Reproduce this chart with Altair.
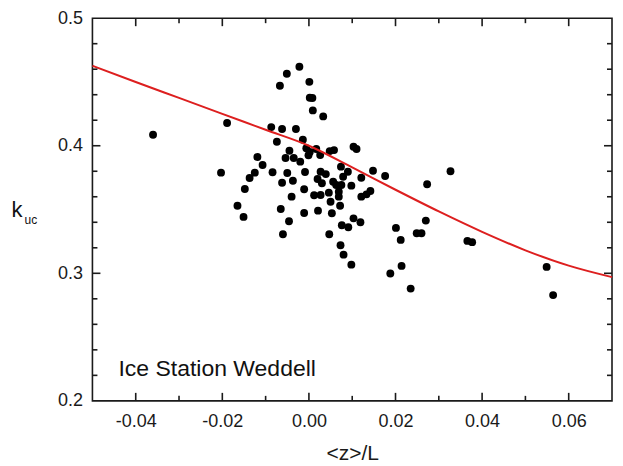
import altair as alt
import pandas as pd

# scatter data: <z>/L and k_uc
zl = [-0.0360, -0.0189, -0.0203, -0.0165, -0.0151, -0.0148, -0.0137, -0.0125, -0.0119, -0.0107,
      -0.0087, -0.0084, -0.0074, -0.0067, -0.0062, -0.0065, -0.0062, -0.0060, -0.0051, -0.0054,
      -0.0050, -0.0046, -0.0045, -0.0040, -0.0037, -0.0035, -0.0030, -0.0022, -0.0020, -0.0014,
      -0.0011, -0.0011, -0.0009, 0.0001, 0.0002, 0.0008, 0.0009, -0.0006, -0.0001, 0.0012,
      0.0020, 0.0021, 0.0033, 0.0002, 0.0017, 0.0026, 0.0027, 0.0039, 0.0030, 0.0048,
      0.0058, 0.0074, 0.0090, 0.0103, 0.0110, 0.0121, 0.0148, 0.0176, 0.0056, 0.0063,
      0.0075, 0.0098, 0.0079, 0.0027, 0.0046, 0.0069, 0.0069, 0.0121, 0.0133, 0.0142,
      0.0050, 0.0072, 0.0053, 0.0103, 0.0119, 0.0076, 0.0091, 0.0047, 0.0327, 0.0273,
      0.0270, 0.0201, 0.0249, 0.0260, 0.0212, 0.0366, 0.0377, 0.0073, 0.0080, 0.0098,
      0.0188, 0.0214, 0.0235, 0.0549, 0.0564]
kuc = [0.4086, 0.4178, 0.3789, 0.3530, 0.3442, 0.3661, 0.3747, 0.3789, 0.3912, 0.3849,
       0.4146, 0.3792, 0.4031, 0.4470, 0.4131, 0.3504, 0.3710, 0.3306, 0.4564, 0.3904,
       0.3786, 0.3408, 0.3961, 0.3601, 0.3726, 0.3904, 0.4131, 0.4619, 0.3875, 0.4047,
       0.3659, 0.3473, 0.3794, 0.4501, 0.4376, 0.4374, 0.4277, 0.3980, 0.3925, 0.3612,
       0.3739, 0.3491, 0.4230, 0.3951, 0.3974, 0.3927, 0.3796, 0.3778, 0.3706, 0.3958,
       0.3966, 0.3836, 0.3796, 0.3992, 0.3974, 0.3749, 0.3804, 0.3763, 0.3718, 0.3692,
       0.3692, 0.3687, 0.3757, 0.3614, 0.3632, 0.3640, 0.3601, 0.3601, 0.3619, 0.3645,
       0.3561, 0.3530, 0.3471, 0.3431, 0.3400, 0.3377, 0.3361, 0.3306, 0.3800, 0.3698,
       0.3413, 0.3356, 0.3314, 0.3314, 0.3262, 0.3254, 0.3244, 0.3220, 0.3146, 0.3068,
       0.2998, 0.3058, 0.2880, 0.3050, 0.2829]

# red model curve
curve_x = [-0.05, -0.04, -0.03, -0.02, -0.01, 0.00, 0.01, 0.02, 0.03, 0.04, 0.05, 0.06, 0.07]
curve_y = [0.4627, 0.4500, 0.4375, 0.4250, 0.4125, 0.4000, 0.3830, 0.3655, 0.3485, 0.3325,
           0.3180, 0.3060, 0.2970]

x_major = [-0.04, -0.02, 0.0, 0.02, 0.04, 0.06]
x_minor = [-0.03, -0.01, 0.01, 0.03, 0.05]
y_major = [0.3, 0.4]
y_minor = [0.22, 0.24, 0.26, 0.28, 0.32, 0.34, 0.36, 0.38, 0.42, 0.44, 0.46, 0.48]
y_labels = [0.2, 0.3, 0.4, 0.5]

X0, X1 = -0.05, 0.07
Y0, Y1 = 0.2, 0.5
W, H = 520, 383
FONT = "Liberation Sans"
TC = "#1a1a1a"
MAJ, MIN = 8, 5
TW = 1.6  # tick thickness in px

pts = pd.DataFrame({"zl": zl, "kuc": kuc})
crv = pd.DataFrame({"zl": curve_x, "kuc": curve_y})

xs = alt.Scale(domain=[X0, X1], nice=False, zero=False)
ys = alt.Scale(domain=[Y0, Y1], nice=False, zero=False)

xaxis = alt.Axis(values=x_major, labelExpr="replace(format(datum.value, '.2f'), '\u2212', '-')",
                 ticks=False, domain=False, grid=False, labelFontSize=18, labelFont=FONT,
                 labelColor=TC, labelPadding=12, title="<z>/L", titleFont=FONT,
                 titleFontSize=21, titleFontWeight="normal", titleColor=TC, titlePadding=12)
yaxis = alt.Axis(values=y_labels, format=".1f", ticks=False, domain=False, grid=False,
                 labelFontSize=18, labelFont=FONT, labelColor=TC, labelPadding=10, title=None)

# inward ticks on all four sides as thin filled rectangles (pixel sizes -> data units)
def ylen(px):
    return px * (Y1 - Y0) / H

def xlen(px):
    return px * (X1 - X0) / W

rects = []
for vals, L in ((x_major, MAJ), (x_minor, MIN)):
    for v in vals:
        hw = xlen(TW / 2)
        rects.append({"xa": v - hw, "xb": v + hw, "ya": Y0, "yb": Y0 + ylen(L)})
        rects.append({"xa": v - hw, "xb": v + hw, "ya": Y1 - ylen(L), "yb": Y1})
for vals, L in ((y_major, MAJ), (y_minor, MIN)):
    for v in vals:
        hh = ylen(TW / 2)
        rects.append({"xa": X0, "xb": X0 + xlen(L), "ya": v - hh, "yb": v + hh})
        rects.append({"xa": X1 - xlen(L), "xb": X1, "ya": v - hh, "yb": v + hh})
tick_df = pd.DataFrame(rects)

ticks = alt.Chart(tick_df).mark_rect(color=TC, opacity=1).encode(
    x=alt.X("xa:Q", scale=xs), x2="xb:Q",
    y=alt.Y("ya:Q", scale=ys), y2="yb:Q",
)

points = alt.Chart(pts).mark_circle(size=62, color="black", opacity=1).encode(
    x=alt.X("zl:Q", scale=xs, axis=xaxis),
    y=alt.Y("kuc:Q", scale=ys, axis=yaxis),
)

line = alt.Chart(crv).mark_line(color="#dd1f1f", strokeWidth=2, interpolate="monotone").encode(
    x=alt.X("zl:Q", scale=xs), y=alt.Y("kuc:Q", scale=ys)
)

label_df = pd.DataFrame({"t": ["Ice Station Weddell"]})
station = alt.Chart(label_df).mark_text(align="left", baseline="alphabetic", fontSize=23,
                                        font=FONT, color="#111").encode(
    text="t:N", x=alt.value(26), y=alt.value(358))

k_df = pd.DataFrame({"t": ["k"]})
kmark = alt.Chart(k_df).mark_text(align="left", baseline="alphabetic", fontSize=22,
                                  font=FONT, color="#111").encode(
    text="t:N", x=alt.value(-81), y=alt.value(199))
uc_df = pd.DataFrame({"t": ["uc"]})
ucmark = alt.Chart(uc_df).mark_text(align="left", baseline="alphabetic", fontSize=12,
                                    font=FONT, color="#111").encode(
    text="t:N", x=alt.value(-68), y=alt.value(206))

chart = alt.layer(
    points, line, ticks, station, kmark, ucmark
).properties(
    width=W, height=H,
    autosize=alt.AutoSizeParams(type="none"),
    padding={"left": 84.5, "top": 10, "right": 3, "bottom": 62},
).configure(
    background="white",
    view=alt.ViewConfig(stroke="#1a1a1a", strokeWidth=1.6),
)

chart.save("out.html", embed_options={"renderer": "svg", "actions": False})
